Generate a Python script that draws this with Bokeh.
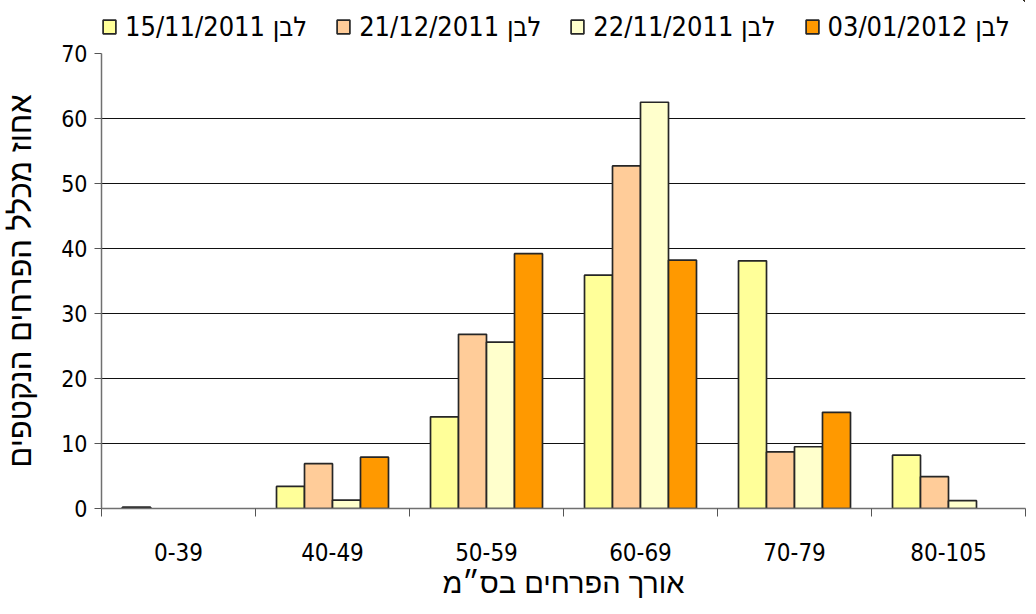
import numpy as np
from bokeh.plotting import figure
from bokeh.layouts import column
from bokeh.models import FixedTicker, Range1d, Legend, LegendItem
from bokeh.embed import file_html
from bokeh.resources import INLINE

categories = ["0-39", "40-49", "50-59", "60-69", "70-79", "80-105"]
series_names = ["15/11/2011 לבן", "21/12/2011 לבן", "22/11/2011 לבן", "03/01/2012 לבן"]
s_15_11_2011 = [0.2, 3.4, 14.1, 35.9, 38.1, 8.2]
s_21_12_2011 = [0.0, 6.9, 26.8, 52.7, 8.7, 4.9]
s_22_11_2011 = [0.0, 1.3, 25.6, 62.5, 9.5, 1.2]
s_03_01_2012 = [0.0, 7.9, 39.2, 38.2, 14.8, 0.0]
colors = ["#FFFF99", "#FFCC99", "#FFFFCC", "#FF9900"]
y_ticks = [0, 10, 20, 30, 40, 50, 60, 70]
x_title = "אורך הפרחים בס״מ"
y_title = "אחוז מכלל הפרחים הנקטפים"

series = [s_15_11_2011, s_21_12_2011, s_22_11_2011, s_03_01_2012]
n = len(categories)
bw = 0.1818
W = 1025
font = "DejaVu Sans Condensed"
heb_font = "Liberation Sans"
bar_line = "#262626"

# ---------- main chart ----------
p = figure(frame_width=924, frame_height=455, output_backend="svg", toolbar_location=None,
           x_range=Range1d(0, n), y_range=Range1d(0, 70),
           min_border_left=100, min_border_right=1, min_border_top=11, min_border_bottom=90)
p.outline_line_color = None

idx = np.arange(n) + 0.5
for k, (vals, col) in enumerate(zip(series, colors)):
    la = [1.0 if v > 0 else 0.0 for v in vals]
    p.vbar(x=idx + (k - 1.5) * bw, top=vals, bottom=0, width=bw,
           fill_color=col, line_color=bar_line, line_width=1.7, line_alpha=la)

xa = p.xaxis[0]
xa.ticker = FixedTicker(ticks=list(idx), minor_ticks=list(range(n + 1)))
xa.major_label_overrides = {float(v): c for v, c in zip(idx, categories)}
xa.major_tick_line_color = None
xa.major_tick_out = 0
xa.minor_tick_line_color = "#555555"
xa.minor_tick_out = 8
xa.minor_tick_in = 0
xa.axis_line_color = "#707070"
xa.axis_line_width = 1.5
xa.major_label_text_font = font
xa.major_label_text_font_size = "24px"
xa.major_label_text_color = "black"
xa.major_label_standoff = 26
xa.axis_label = x_title
xa.axis_label_text_font = heb_font
xa.axis_label_text_font_size = "29px"
xa.axis_label_text_font_style = "normal"
xa.axis_label_text_color = "black"
xa.axis_label_standoff = 3

ya = p.yaxis[0]
ya.ticker = FixedTicker(ticks=y_ticks)
ya.minor_tick_line_color = None
ya.major_tick_out = 7
ya.major_tick_in = 0
ya.major_tick_line_color = "#555555"
ya.axis_line_color = "#707070"
ya.axis_line_width = 1.5
ya.major_label_text_font = font
ya.major_label_text_font_size = "23px"
ya.major_label_text_color = "black"
ya.major_label_standoff = 7
ya.axis_label = y_title
ya.axis_label_text_font = heb_font
ya.axis_label_text_font_size = "31px"
ya.axis_label_text_font_style = "normal"
ya.axis_label_text_color = "black"
ya.axis_label_standoff = 20

p.xgrid.visible = False
p.ygrid.ticker = FixedTicker(ticks=y_ticks[1:-1])
p.ygrid.grid_line_color = "#111111"
p.ygrid.grid_line_width = 1

# ---------- legend strip ----------
lg = figure(width=W, height=42, output_backend="svg", toolbar_location=None,
            x_range=Range1d(-1001, -1000), y_range=Range1d(-1001, -1000),
            x_axis_location=None, y_axis_location=None,
            min_border_left=0, min_border_right=0, min_border_top=0, min_border_bottom=0)
lg.outline_line_color = None
lg.xgrid.visible = False
lg.ygrid.visible = False
items = []
for k, (vals, nm, col) in enumerate(zip(series, series_names, colors)):
    # same bars, lying outside this strip's view; only the legend swatch is seen
    r = lg.vbar(x=idx + (k - 1.5) * bw, top=vals, bottom=0, width=bw,
                fill_color=col, line_color=bar_line, line_width=1.7)
    items.append(LegendItem(label=nm, renderers=[r]))
legend = Legend(items=items, orientation="horizontal", location=(0, 0),
                border_line_color=None, background_fill_alpha=0,
                padding=0, margin=0, spacing=28,
                glyph_width=16, glyph_height=17, label_standoff=8,
                label_text_font=font, label_text_font_size="27px",
                label_text_color="black", label_height=27)
lg.add_layout(legend, "center")

layout = column(lg, p, spacing=0)
open("out.html", "w").write(file_html(layout, INLINE))
